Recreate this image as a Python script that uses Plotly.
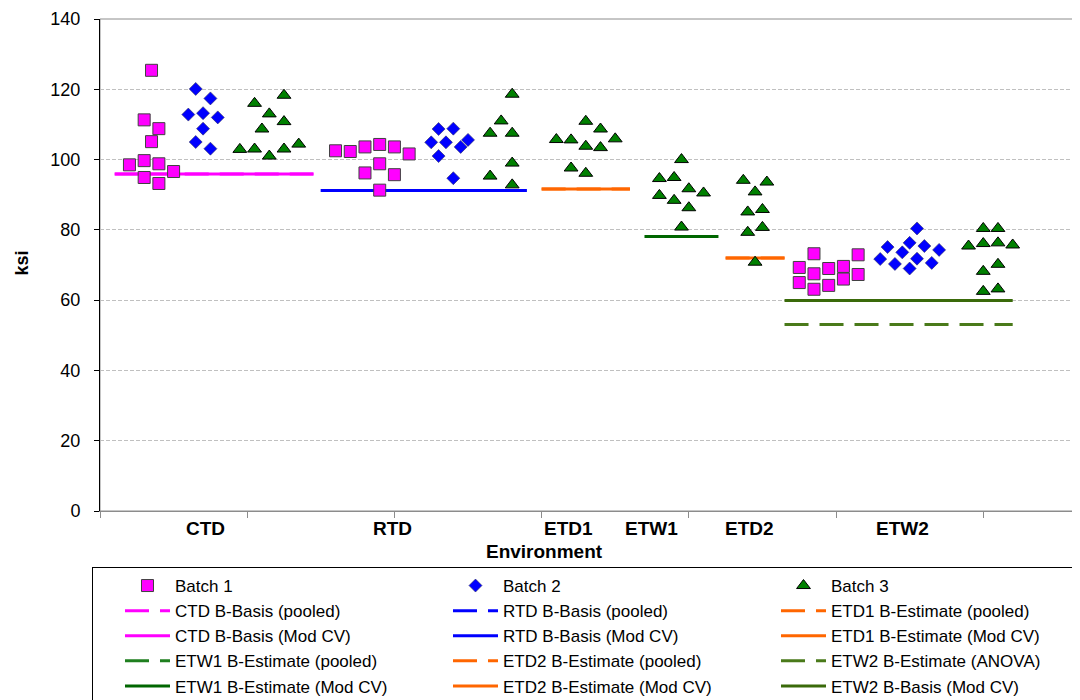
import plotly.graph_objects as go

FONT = "Liberation Sans, Arial, sans-serif"

# ---------------- data (x = position index along Environment axis, y = ksi) ----------------
# Batch 1 (squares)
ctd_b1_x = [7, 6, 8, 7, 4, 6, 8, 10, 6, 8]
ctd_b1_y = [125.4, 111.3, 108.8, 105.1, 98.5, 99.7, 98.8, 96.6, 94.9, 93.2]
rtd_b1_x = [32, 34, 36, 38, 40, 42, 36, 38, 40, 38]
rtd_b1_y = [102.5, 102.3, 103.6, 104.3, 103.6, 101.6, 96.2, 98.8, 95.7, 91.3]
etw2_b1_x = [95, 97, 99, 101, 103, 95, 97, 99, 101, 103, 97]
etw2_b1_y = [69.3, 73.2, 69.0, 69.6, 72.9, 65.0, 67.5, 64.2, 66.0, 67.3, 63.1]

# Batch 2 (diamonds)
ctd_b2_x = [13, 15, 12, 14, 16, 14, 13, 15]
ctd_b2_y = [120.1, 117.4, 112.8, 113.2, 112.0, 108.8, 105.0, 103.1]
rtd_b2_x = [46, 48, 45, 47, 49, 50, 46, 48]
rtd_b2_y = [108.7, 108.8, 104.9, 104.9, 103.6, 105.6, 101.0, 94.7]
etw2_b2_x = [111, 107, 110, 112, 114, 106, 109, 111, 113, 108, 110]
etw2_b2_y = [80.4, 75.1, 76.3, 75.4, 74.3, 71.7, 73.6, 71.8, 70.6, 70.3, 69.0]

# Batch 3 (triangles)
ctd_b3_x = [21, 25, 23, 25, 22, 19, 21, 23, 25, 27]
ctd_b3_y = [116.0, 118.3, 113.0, 110.8, 108.7, 102.9, 103.0, 101.0, 103.0, 104.4]
rtd_b3_x = [56, 54.5, 53, 56, 56, 53, 56]
rtd_b3_y = [118.6, 111.0, 107.5, 107.5, 99.0, 95.3, 92.8]
etd1_b3_x = [66, 68, 62, 64, 66, 68, 70, 64, 66]
etd1_b3_y = [110.9, 108.7, 105.7, 105.6, 103.8, 103.4, 105.9, 97.6, 96.1]
etw1_b3_x = [79, 76, 78, 80, 82, 76, 78, 80, 79]
etw1_b3_y = [100.0, 94.6, 94.9, 91.7, 90.5, 89.8, 88.4, 86.3, 80.8]
etd2_b3_x = [87.4, 90.6, 89, 88, 90, 88, 90, 89]
etd2_b3_y = [94.1, 93.6, 90.8, 85.1, 85.8, 79.3, 80.7, 70.8]
etw2_b3_x = [120, 122, 118, 120, 122, 124, 120, 122, 120, 122]
etw2_b3_y = [80.4, 80.4, 75.4, 76.1, 76.3, 75.7, 68.2, 70.2, 62.5, 63.2]

# Basis / estimate lines
basis_names = [
    "CTD B-Basis (pooled)", "RTD B-Basis (pooled)", "ETD1 B-Estimate (pooled)",
    "CTD B-Basis (Mod CV)", "RTD B-Basis (Mod CV)", "ETD1 B-Estimate (Mod CV)",
    "ETW1 B-Estimate (pooled)", "ETD2 B-Estimate (pooled)", "ETW2 B-Estimate (ANOVA)",
    "ETW1 B-Estimate (Mod CV)", "ETD2 B-Estimate (Mod CV)", "ETW2 B-Basis (Mod CV)",
]
basis_values = [95.9, 91.2, 91.6, 95.9, 91.2, 91.6, 78.1, 72.0, 53.1, 78.1, 72.0, 59.9]
basis_x_start = [2, 30, 60, 2, 30, 60, 74, 85, 93, 74, 85, 93]
basis_x_end = [29, 58, 72, 29, 58, 72, 84, 93, 124, 84, 93, 124]

env_labels = ["CTD", "RTD", "ETD1", "ETW1", "ETD2", "ETW2"]
env_label_pos = [14.3, 39.7, 63.6, 74.9, 88.3, 109.0]

y_ticks = [0, 20, 40, 60, 80, 100, 120, 140]
x_ticks = [0, 20, 40, 60, 80, 100, 120]

# ---------------- styles ----------------
basis_colors = ["#FF00FF", "#0000FF", "#FF6600", "#FF00FF", "#0000FF", "#FF6600",
                "#1F7F1F", "#FF6600", "#4A7A1A", "#006600", "#FF6600", "#3A6A0A"]
basis_dashed = [True, True, True, False, False, False, True, True, True, False, False, False]

fig = go.Figure()

# lines first (drawn below markers); legend order via legendrank
for i, name in enumerate(basis_names):
    fig.add_trace(go.Scatter(
        x=[basis_x_start[i], basis_x_end[i]], y=[basis_values[i], basis_values[i]],
        mode="lines", name=name,
        line=dict(color=basis_colors[i], width=3,
                  dash="24px,11px" if basis_dashed[i] else "solid"),
        legendrank=10 + i, hoverinfo="skip",
    ))

b1_x = ctd_b1_x + rtd_b1_x + etw2_b1_x
b1_y = ctd_b1_y + rtd_b1_y + etw2_b1_y
b2_x = ctd_b2_x + rtd_b2_x + etw2_b2_x
b2_y = ctd_b2_y + rtd_b2_y + etw2_b2_y
b3_x = ctd_b3_x + rtd_b3_x + etd1_b3_x + etw1_b3_x + etd2_b3_x + etw2_b3_x
b3_y = ctd_b3_y + rtd_b3_y + etd1_b3_y + etw1_b3_y + etd2_b3_y + etw2_b3_y

fig.add_trace(go.Scatter(x=b1_x, y=b1_y, mode="markers", name="Batch 1", legendrank=1,
                         marker=dict(symbol="square", size=12, color="#FF00FF",
                                     line=dict(color="#404040", width=1))))
fig.add_trace(go.Scatter(x=b2_x, y=b2_y, mode="markers", name="Batch 2", legendrank=2,
                         marker=dict(symbol="diamond", size=10, color="#0000FF",
                                     line=dict(color="#303060", width=0.6))))
fig.add_trace(go.Scatter(x=b3_x, y=b3_y, mode="markers", name="Batch 3", legendrank=3,
                         marker=dict(symbol="triangle-up", size=12, color="#008000",
                                     line=dict(color="#000000", width=1))))

# category labels under the axis
annotations = []
for lab, pos in zip(env_labels, env_label_pos):
    annotations.append(dict(x=pos, xref="x", y=-0.0346, yref="paper", yanchor="middle",
                            text="<b>%s</b>" % lab, showarrow=False,
                            font=dict(family=FONT, size=19, color="#000000")))
annotations.append(dict(x=0.455, xref="paper", y=-0.0833, yref="paper", yanchor="middle",
                        text="<b>Environment</b>", showarrow=False,
                        font=dict(family=FONT, size=19, color="#000000")))
annotations.append(dict(x=-0.0794, xref="paper", y=0.504, yref="paper",
                        xanchor="center", yanchor="middle", textangle=-90,
                        text="<b>ksi</b>", showarrow=False,
                        font=dict(family=FONT, size=18, color="#000000")))

# note: the page body adds an 8px offset, so margins are reduced by 8 on left/top
fig.update_layout(
    width=1080, height=700,
    margin=dict(l=92, r=12, t=11, b=197, pad=0, autoexpand=False),
    paper_bgcolor="white", plot_bgcolor="white",
    font=dict(family=FONT, color="#000000"),
    showlegend=True,
    annotations=annotations,
    shapes=[dict(type="rect", xref="paper", yref="paper", x0=0, x1=1, y0=0, y1=1,
                 line=dict(color="#8C8C8C", width=1), layer="below")],
    xaxis=dict(range=[0, 132.6], tickvals=x_ticks, showticklabels=False,
               ticks="outside", ticklen=6, tickcolor="#8C8C8C", tickwidth=1,
               showline=True, linecolor="#8C8C8C", linewidth=1, automargin=False,
               showgrid=False, zeroline=False, fixedrange=True),
    yaxis=dict(range=[0, 140], tickvals=y_ticks, ticks="outside", ticklen=5,
               tickcolor="#000000", tickwidth=1, showline=True, linecolor="#000000",
               linewidth=1, showgrid=True, gridcolor="#C0C0C0", gridwidth=1,
               griddash="4px,2px", zeroline=False, ticklabelstandoff=10, automargin=False,
               ticklabeloverflow="allow",
               tickfont=dict(family=FONT, size=18, color="#000000")),
    legend=dict(orientation="h", x=-0.0082, xanchor="left", y=-0.1138, yanchor="top",
                bordercolor="#000000", borderwidth=1, bgcolor="white",
                font=dict(family=FONT, size=17, color="#000000"),
                entrywidth=241, entrywidthmode="pixels", itemwidth=45,
                indentation=27, tracegroupgap=0, itemsizing="trace"),
)

fig.write_html("out.html")
